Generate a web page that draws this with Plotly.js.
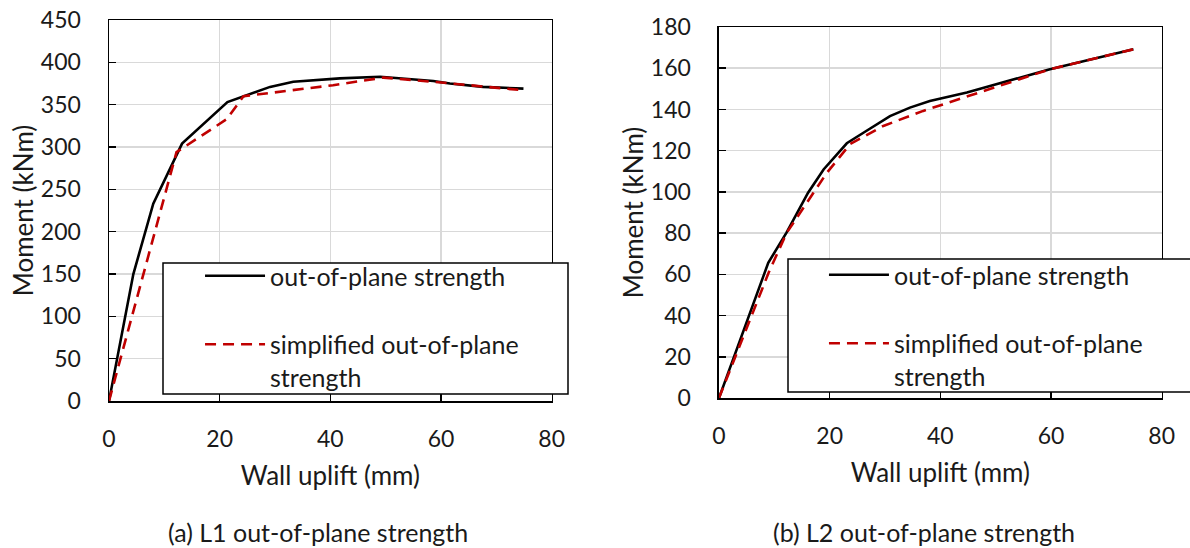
<!DOCTYPE html>
<html>
<head>
<meta charset="utf-8">
<script src="https://cdn.plot.ly/plotly-3.0.1.min.js"></script>
<style>html,body{margin:0;padding:0;background:#fff;overflow:hidden;}#chart{width:1190px;height:548px;}</style>
</head>
<body>
<div id="chart"></div>
<script>
// ---- Data ----
// (a) L1
const l1StrengthX = [0, 4.4, 8.0, 13.2, 21.4, 29.1, 33.3, 41.7, 49.0, 58.6, 61.6, 67.6, 74.9];
const l1StrengthY = [0, 150, 233, 304, 353, 371, 377, 381, 383, 378, 375, 371, 369];
const l1SimplifiedX = [0, 12.2, 21.3, 24.3, 40.5, 49.6, 58.6, 67.6, 74.9];
const l1SimplifiedY = [0, 294, 333, 360, 373, 382, 377, 371, 367];
// (b) L2
const l2StrengthX = [0, 8.9, 12.2, 16.1, 18.9, 23.1, 26.1, 30.9, 34.5, 38.1, 44.8, 59.8, 74.9];
const l2StrengthY = [0, 65.6, 80.2, 99.6, 110.9, 123.6, 128.7, 136.8, 140.9, 144.1, 148.2, 159.5, 169.2];
const l2SimplifiedX = [0, 9.0, 12.2, 19.5, 23.7, 29.7, 36.9, 46.0, 59.8, 74.9];
const l2SimplifiedY = [0, 61, 80, 109.3, 123.2, 132, 139.3, 147.4, 159.5, 169.2];

const seriesNames = ["out-of-plane strength", "simplified out-of-plane<br>strength"];
const xTitle = "Wall uplift (mm)";
const yTitle = "Moment (kNm)";
const captions = ["(a) L1 out-of-plane strength", "(b) L2 out-of-plane strength"];

const FONT = "Lato, 'Open Sans', sans-serif";
const TXT = "#1a1a1a";
const RED = "#C00000";

const solid = {color: "#000", width: 2.6};
const dashed = {color: RED, width: 2.6, dash: "11px,7px"};

const traces = [
  {x: l1StrengthX, y: l1StrengthY, name: seriesNames[0], mode: "lines", line: solid, xaxis: "x", yaxis: "y", legend: "legend", legendgroup: "a1"},
  {x: l1SimplifiedX, y: l1SimplifiedY, name: seriesNames[1], mode: "lines", line: dashed, xaxis: "x", yaxis: "y", legend: "legend", legendgroup: "a2"},
  {x: l2StrengthX, y: l2StrengthY, name: seriesNames[0], mode: "lines", line: solid, xaxis: "x2", yaxis: "y2", legend: "legend2", legendgroup: "b1"},
  {x: l2SimplifiedX, y: l2SimplifiedY, name: seriesNames[1], mode: "lines", line: dashed, xaxis: "x2", yaxis: "y2", legend: "legend2", legendgroup: "b2"}
];

function xAxis(domain, anchor) {
  return {
    domain: domain, anchor: anchor, range: [0, 80], dtick: 20, tick0: 0,
    showgrid: true, gridcolor: "#d9d9d9", gridwidth: 1.5,
    showline: true, linecolor: "#000", linewidth: 1.5, mirror: true,
    ticks: "inside", ticklen: 7, tickwidth: 1.5, tickcolor: "#000",
    ticklabelstandoff: 17,
    tickfont: {family: FONT, size: 23, color: TXT},
    title: {text: xTitle, font: {family: FONT, size: 26, color: TXT}, standoff: 15},
    zeroline: false, fixedrange: true
  };
}
function yAxis(domain, anchor, max, dtick) {
  return {
    domain: domain, anchor: anchor, range: [0, max], dtick: dtick, tick0: 0,
    showgrid: true, gridcolor: "#d9d9d9", gridwidth: 1.5,
    showline: true, linecolor: "#000", linewidth: 1.5, mirror: true,
    ticks: "inside", ticklen: 7, tickwidth: 1.5, tickcolor: "#000",
    ticklabelstandoff: 22,
    tickfont: {family: FONT, size: 23, color: TXT},
    title: {text: yTitle, font: {family: FONT, size: 26, color: TXT}, standoff: 0},
    zeroline: false, fixedrange: true
  };
}
function legendCfg(x, y) {
  return {
    x: x, y: y, xanchor: "left", yanchor: "top", xref: "paper", yref: "paper",
    bgcolor: "rgba(0,0,0,0)", borderwidth: 0,
    font: {family: FONT, size: 25, color: TXT},
    traceorder: "grouped", tracegroupgap: 33, itemwidth: 60, valign: "top"
  };
}
function boxShape(x0, x1, y0, y1) {
  return {type: "rect", xref: "paper", yref: "paper", x0: x0, x1: x1, y0: y0, y1: y1,
          fillcolor: "#fff", line: {color: "#000", width: 1.5}, layer: "above"};
}

const layout = {
  width: 1190, height: 548,
  margin: {l: 0, r: 0, t: 0, b: 0},
  paper_bgcolor: "#fff", plot_bgcolor: "#fff",
  font: {family: FONT, color: TXT},
  xaxis: xAxis([0.0916, 0.4636], "y"),
  yaxis: yAxis([0.2682, 0.9635], "x", 450, 50),
  xaxis2: xAxis([0.6042, 0.9762], "y2"),
  yaxis2: yAxis([0.2737, 0.9507], "x2", 180, 20),
  showlegend: true,
  legend: legendCfg(0.1681, 0.5383),
  legend2: legendCfg(0.6924, 0.5401),
  shapes: [
    boxShape(163 / 1190, 568 / 1190, (548 - 394) / 548, (548 - 263) / 548),
    boxShape(788 / 1190, 1.003, (548 - 392) / 548, (548 - 259) / 548)
  ],
  annotations: [
    {text: captions[0], x: 0.267, y: (548 - 532) / 548, xref: "paper", yref: "paper", showarrow: false, xanchor: "center", yanchor: "middle", font: {family: FONT, size: 25, color: TXT}},
    {text: captions[1], x: 0.7765, y: (548 - 532) / 548, xref: "paper", yref: "paper", showarrow: false, xanchor: "center", yanchor: "middle", font: {family: FONT, size: 25, color: TXT}}
  ]
};

Plotly.newPlot("chart", traces, layout, {displayModeBar: false, staticPlot: true});
</script>
</body>
</html>
